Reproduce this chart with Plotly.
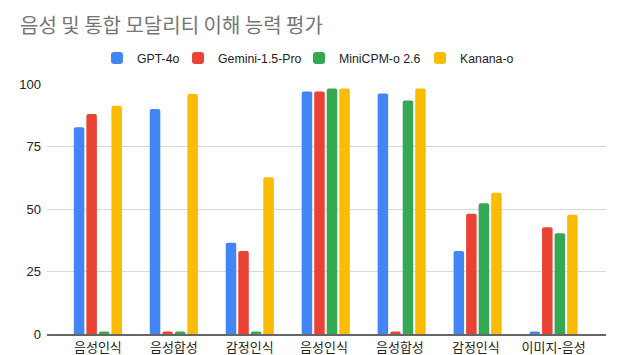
import plotly.graph_objects as go

categories = ["음성인식", "음성합성", "감정인식", "음성인식 ", "음성합성 ", "감정인식 ", "이미지-음성<br>통합 인식"]
series_names = ["GPT-4o", "Gemini-1.5-Pro", "MiniCPM-o 2.6", "Kanana-o"]
gpt4o = [82.7, 90.0, 36.5, 97.0, 96.2, 33.2, 1.0]
gemini = [88.0, 1.0, 33.2, 97.0, 1.0, 48.1, 42.7]
minicpm = [1.0, 1.0, 1.0, 98.2, 93.4, 52.3, 40.3]
kanana = [91.3, 96.0, 62.7, 98.2, 98.2, 56.5, 47.7]
colors = ["#4285F4", "#EA4335", "#34A853", "#FBBC04"]
y_ticks = [0, 25, 50, 75, 100]

W, H = 627, 355
FONT = "Liberation Sans, Arial, Noto Sans CJK KR, sans-serif"
legend_text_x = [137, 218, 339, 460]  # left edge of each legend label, px

fig = go.Figure()
legend_ids = ["legend", "legend2", "legend3", "legend4"]
for name, vals, c, lid in zip(series_names, [gpt4o, gemini, minicpm, kanana], colors, legend_ids):
    fig.add_trace(go.Bar(name=name, x=categories, y=vals, legend=lid,
                         marker=dict(color=c, line=dict(width=0), cornerradius=2)))

fig.update_layout(
    width=W, height=H,
    margin=dict(l=47, r=21, t=84, b=21),
    paper_bgcolor="white", plot_bgcolor="white",
    barmode="group", bargap=0.34, bargroupgap=0.16,
    font=dict(family=FONT, color="#222222", size=13),
    title=dict(text="음성 및 통합 모달리티 이해 능력 평가", x=20 / W, xref="container", xanchor="left",
               y=1 - 26 / H, yref="container", yanchor="middle",
               font=dict(size=20, color="#757575", family="Noto Sans CJK KR, sans-serif")),
    showlegend=True,
)
for lid, tx in zip(legend_ids, legend_text_x):
    fig.update_layout({lid: dict(orientation="h", xref="container", x=(tx - 40) / W, xanchor="left",
                                 yref="container", y=1 - 58 / H, yanchor="middle",
                                 borderwidth=0, bgcolor="rgba(0,0,0,0)",
                                 font=dict(size=12.3, color="#222222"), itemclick=False)})
fig.update_yaxes(range=[0, 100], tickvals=y_ticks, showgrid=True, gridcolor="#D9D9D9", gridwidth=1,
                 zeroline=False, showline=False, ticks="", ticklabelstandoff=5,
                 tickfont=dict(size=13, color="#222222"), fixedrange=True, automargin=False)
fig.update_xaxes(range=[-0.67, 6.69], showline=True, linecolor="#666666", linewidth=2, ticks="",
                 tickfont=dict(size=13, color="#222222"), fixedrange=True, automargin=False, tickangle=0)
fig.write_html("out.html", config={"displayModeBar": False},
               post_script="document.body.style.margin='0';document.body.style.overflow='hidden';")
